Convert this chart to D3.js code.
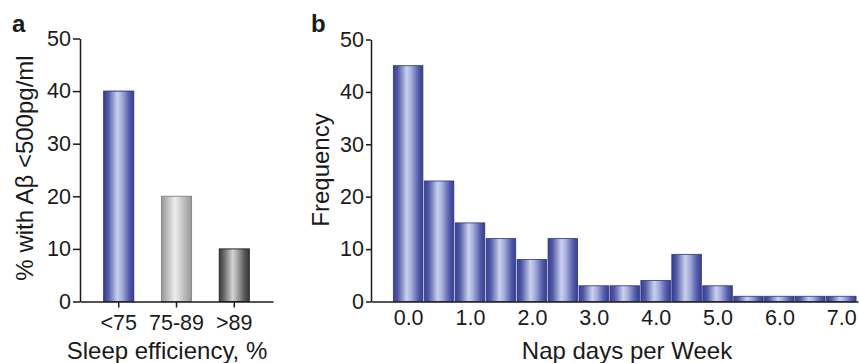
<!DOCTYPE html>
<html lang="en">

<head>
    <script src="https://d3js.org/d3.v7.min.js"></script>
    <style>
        body {
            margin: 0;
            background: white;
        }

        svg text {
            font-family: "Liberation Sans", Arial, sans-serif;
            fill: #1a1a1a;
        }

        .domain,
        .tick line {
            stroke: #1a1a1a;
            stroke-width: 1.5;
        }
    </style>
</head>

<body>
    <svg id="chart" width="859" height="363"></svg>

    <script>
        // panel a data
        const efficiencyCats = ["<75", "75-89", ">89"];
        const efficiencyPct = [40, 20, 10];
        const efficiencyFill = ["blue", "light", "dark"];

        // panel b data (bins of half a day)
        const napDays = [0.0, 0.5, 1.0, 1.5, 2.0, 2.5, 3.0, 3.5, 4.0, 4.5, 5.0, 5.5, 6.0, 6.5, 7.0];
        const napFreq = [45, 23, 15, 12, 8, 12, 3, 3, 4, 9, 3, 1, 1, 1, 1];
        const napTicks = [0, 1, 2, 3, 4, 5, 6, 7];

        const yTicks = [0, 10, 20, 30, 40, 50];

        const svg = d3.select("svg#chart");
        const defs = svg.append("defs");
        const tickFont = "21.5px";

        // shiny cylinder look for the bars
        const gradients = {
            blue: ["#394093", "#5159a6", "#c9d1ee", "#a7b0dc", "#535baa", "#363d8f"],
            light: ["#979797", "#b5b5b5", "#eeeeee", "#d6d6d6", "#adadad", "#959595"],
            dark: ["#3a3a3a", "#666", "#d4d4d4", "#a8a8a8", "#555", "#3a3a3a"]
        };
        const stopAt = [0, 0.15, 0.45, 0.6, 0.85, 1];

        Object.keys(gradients).forEach(k => {
            let g = defs.append("linearGradient")
                .attr("id", "grad-" + k)
                .attr("x1", "0%").attr("x2", "100%")
                .attr("y1", "0%").attr("y2", "0%");
            gradients[k].forEach((c, i) => {
                g.append("stop").attr("offset", stopAt[i]).attr("stop-color", c);
            });
        });
        const strokes = { blue: "#2e3586", light: "#8a8a8a", dark: "#2a2a2a" };

        // ---------- panel a ----------
        const aLeft = 80, aRight = 273;
        const yA = d3.scaleLinear().domain([0, 50]).range([301.5, 38.5]);
        const xA = d3.scaleBand()
            .domain(efficiencyCats)
            .range([aLeft, aRight])
            .paddingInner(0.48)
            .paddingOuter(0.41);

        const gA = svg.append("g");

        gA.selectAll("rect.bar")
            .data(efficiencyCats)
            .join("rect")
            .attr("class", "bar")
            .attr("x", d => xA(d))
            .attr("width", xA.bandwidth())
            .attr("y", (d, i) => yA(efficiencyPct[i]))
            .attr("height", (d, i) => yA(0) - yA(efficiencyPct[i]))
            .attr("fill", (d, i) => `url(#grad-${efficiencyFill[i]})`)
            .attr("stroke", (d, i) => strokes[efficiencyFill[i]])
            .attr("stroke-width", 1);

        gA.append("g")
            .attr("transform", `translate(${aLeft},0)`)
            .call(d3.axisLeft(yA).tickValues(yTicks).tickSize(7).tickPadding(2).tickSizeOuter(0))
            .call(g => g.selectAll("text").style("font-size", tickFont));

        gA.append("g")
            .attr("transform", `translate(0,${yA(0)})`)
            .call(d3.axisBottom(xA).tickSize(6).tickPadding(7).tickSizeOuter(0))
            .call(g => g.selectAll("text").style("font-size", tickFont));

        gA.append("text")
            .attr("transform", "translate(33,168) rotate(-90)")
            .attr("text-anchor", "middle")
            .style("font-size", "24px")
            .text("% with Aβ <500pg/ml");

        gA.append("text")
            .attr("x", 167)
            .attr("y", 359)
            .attr("text-anchor", "middle")
            .style("font-size", "24px")
            .text("Sleep efficiency, %");

        gA.append("text")
            .attr("x", 12)
            .attr("y", 32)
            .style("font-size", "24px")
            .style("font-weight", "bold")
            .text("a");

        // ---------- panel b ----------
        const bLeft = 371, bRight = 858;
        const yB = d3.scaleLinear().domain([0, 50]).range([301.5, 39.5]);
        const xB = d3.scaleLinear().domain([-0.6, 7.27]).range([bLeft, bRight]);
        const binW = xB(0.5) - xB(0);

        const gB = svg.append("g");

        gB.selectAll("rect.bar")
            .data(napDays)
            .join("rect")
            .attr("class", "bar")
            .attr("x", d => xB(d) - binW / 2 + 0.7)
            .attr("width", binW - 1.4)
            .attr("y", (d, i) => yB(napFreq[i]))
            .attr("height", (d, i) => yB(0) - yB(napFreq[i]))
            .attr("fill", "url(#grad-blue)")
            .attr("stroke", strokes.blue)
            .attr("stroke-width", 0.8);

        gB.append("g")
            .attr("transform", `translate(${bLeft},0)`)
            .call(d3.axisLeft(yB).tickValues(yTicks).tickSize(5).tickPadding(2).tickSizeOuter(0))
            .call(g => g.selectAll("text").style("font-size", tickFont));

        gB.append("g")
            .attr("transform", `translate(0,${yB(0)})`)
            .call(d3.axisBottom(xB).tickValues(napTicks).tickFormat(d3.format(".1f")).tickSize(0).tickPadding(8).tickSizeOuter(0))
            .call(g => g.selectAll("text").style("font-size", tickFont));

        gB.append("text")
            .attr("transform", "translate(329,170) rotate(-90)")
            .attr("text-anchor", "middle")
            .style("font-size", "24px")
            .text("Frequency");

        gB.append("text")
            .attr("x", 627)
            .attr("y", 359)
            .attr("text-anchor", "middle")
            .style("font-size", "24px")
            .text("Nap days per Week");

        gB.append("text")
            .attr("x", 311)
            .attr("y", 32)
            .style("font-size", "24px")
            .style("font-weight", "bold")
            .text("b");
    </script>
</body>

</html>
